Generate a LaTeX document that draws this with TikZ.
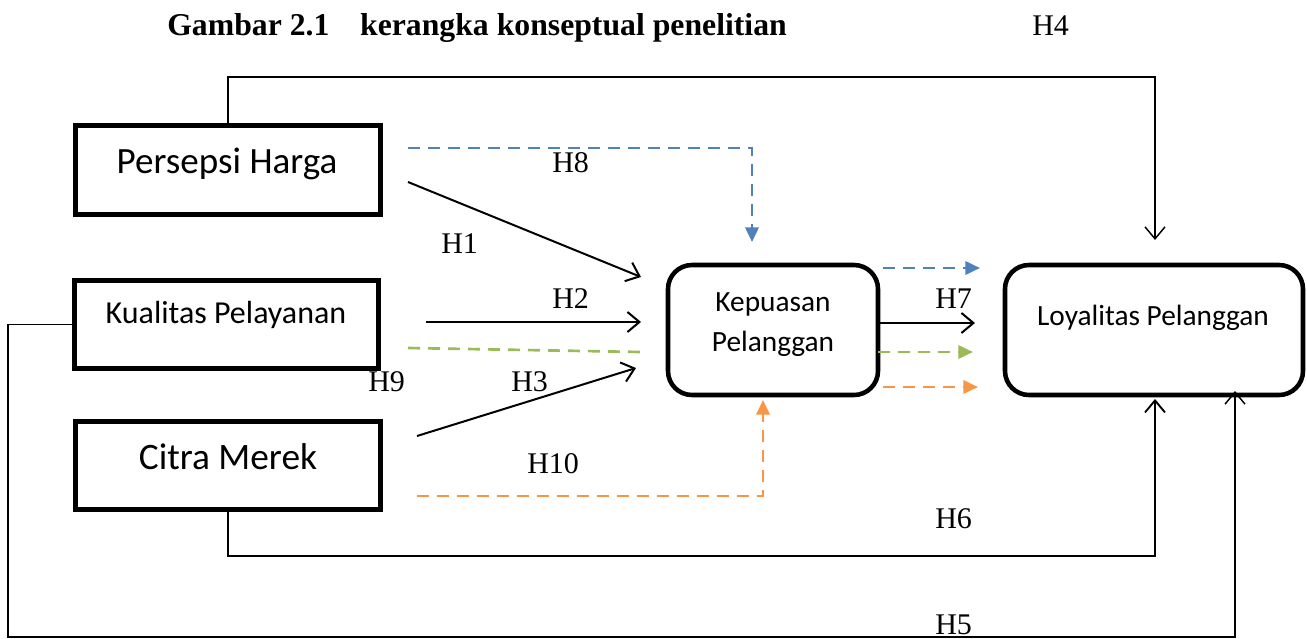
\documentclass[tikz,border=0pt]{standalone}
\usepackage{fontspec}
\setmainfont{Liberation Serif}
\newfontfamily\carlitofont{Carlito}
\usetikzlibrary{arrows.meta,fit,calc}
\definecolor{oblue}{HTML}{4F81BD}
\definecolor{ogreen}{HTML}{9BBB59}
\definecolor{oorange}{HTML}{F79646}
\begin{document}
\begin{tikzpicture}[x=0.75pt,y=-0.75pt,
  box/.style={draw, line width=3.8pt, inner sep=0pt, outer sep=0pt},
  rbox/.style={box, line width=3.4pt, rounded corners=18pt},
  btext/.style={font=\carlitofont, inner sep=0pt, anchor=base},
  hlab/.style={font=\fontsize{22.5}{26}\selectfont, inner sep=0pt, anchor=base west},
  openTip/.style={-{Straight Barb[length=9pt,width=15pt]}},
  conn/.style={line width=1.5pt, openTip},
  frameline/.style={line width=1.1pt},
  dsh/.style={line width=2pt, dash pattern=on 9pt off 6pt},
  triTip/.style={-{Triangle[length=11pt,width=10pt]}}
]
\useasboundingbox (0,0) rectangle (1307,639);

% boxes
\node[box, fit={(75.5,125.5) (380.5,214.5)}] (ph) {};
\node[box, fit={(74.5,280.5) (378.5,368.5)}] (kpl) {};
\node[box, fit={(75.5,421.5) (380.5,509.5)}] (cm) {};
\node[rbox, fit={(668,265) (878,395)}] (kep) {};
\node[rbox, fit={(1005,265) (1303,395)}] (lp) {};

% box texts
\node[btext, font=\carlitofont\fontsize{27.8}{32}\selectfont] (phT) at (227,173) {Persepsi Harga};
\node[btext, font=\carlitofont\fontsize{24}{28}\selectfont] (kplT) at (226,323) {Kualitas Pelayanan};
\node[btext, font=\carlitofont\fontsize{28}{32}\selectfont] (cmT) at (228,469) {Citra Merek};
\node[btext, font=\carlitofont\fontsize{22}{26}\selectfont] (kepT1) at (773,311) {Kepuasan};
\node[btext, font=\carlitofont\fontsize{22}{26}\selectfont] (kepT2) at (773,351) {Pelanggan};
\node[btext, font=\carlitofont\fontsize{22}{26}\selectfont] (lpT) at (1153,325) {Loyalitas Pelanggan};

% title and labels
\node[font=\bfseries\fontsize{23.8}{28}\selectfont, inner sep=0pt, anchor=base west] (title) at (167,35) {Gambar 2.1\hspace{23pt}kerangka konseptual penelitian};
\node[hlab] (h4) at (1032,35) {H4};
\node[hlab] (h8) at (552,172) {H8};
\node[hlab] (h1) at (441,253) {H1};
\node[hlab] (h2) at (552,308) {H2};
\node[hlab] (h7) at (935,308) {H7};
\node[hlab] (h9) at (368,391) {H9};
\node[hlab] (h3) at (511,391) {H3};
\node[hlab] (h10) at (527,473) {H10};
\node[hlab] (h6) at (935,528) {H6};
\node[hlab] (h5) at (935,634) {H5};

% free ends
\coordinate (h4c) at (1155,77);
\coordinate (h4e) at (1155,240);
\coordinate (b8s) at (408,148);
\coordinate (b8e) at (752,242);
\coordinate (h1s) at (408,182);
\coordinate (h1e) at (641,277);
\coordinate (h2s) at (426,322);
\coordinate (h2e) at (641,322);
\coordinate (g9s) at (408,348);
\coordinate (g9e) at (641,352);
\coordinate (h3s) at (417,436);
\coordinate (h3e) at (636,368);
\coordinate (o10s) at (417,496);
\coordinate (o10e) at (763,400);
\coordinate (rbs) at (883,268);
\coordinate (rbe) at (980,268);
\coordinate (h7s) at (880,323);
\coordinate (h7e) at (975,323);
\coordinate (rgs) at (878,352);
\coordinate (rge) at (973,352);
\coordinate (ros) at (883,387);
\coordinate (roe) at (978,387);
\coordinate (h6c) at (1155,556);
\coordinate (h6e) at (1155,399);
\coordinate (h5a) at (8,322);
\coordinate (h5b) at (1235,637);
\coordinate (h5e) at (1235,391);

% connectors
\draw[frameline, openTip] (ph.north) |- (h4c) -- (h4e);
\draw[dsh, oblue, triTip] (b8s) -| (b8e);
\draw[conn] (h1s) -- (h1e);
\draw[conn] (h2s) -- (h2e);
\draw[dsh, ogreen] (g9s) -- (g9e);
\draw[conn] (h3s) -- (h3e);
\draw[dsh, oorange, triTip] (o10s) -| (o10e);
\draw[dsh, oblue, triTip] (rbs) -- (rbe);
\draw[conn] (h7s) -- (h7e);
\draw[dsh, ogreen, triTip] (rgs) -- (rge);
\draw[dsh, oorange, triTip] (ros) -- (roe);
\draw[line width=1.4pt, openTip] (cm.south) |- (h6c) -- (h6e);
\draw[frameline, openTip] (kpl.west) -- (kpl.west -| h5a) |- (h5b) -- (h5e);
\end{tikzpicture}
\end{document}
